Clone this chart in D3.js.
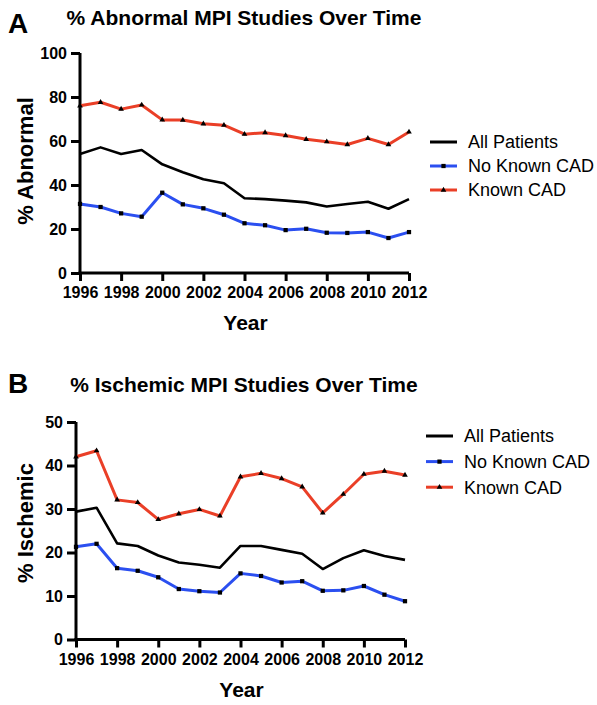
<!DOCTYPE html>
<html>
<head>
<meta charset="utf-8">
<script src="https://cdn.jsdelivr.net/npm/d3@7"></script>
<style>
  body { margin: 0; background: #fff; }
  text { font-family: "Liberation Sans", Arial, Helvetica, sans-serif; }
</style>
</head>
<body>
<script>
var width = 597;
var height = 705;

// data
var years = [1996, 1997, 1998, 1999, 2000, 2001, 2002, 2003, 2004, 2005, 2006, 2007, 2008, 2009, 2010, 2011, 2012];
var yearTicks = [1996, 1998, 2000, 2002, 2004, 2006, 2008, 2010, 2012];
var seriesNames = ["All Patients", "No Known CAD", "Known CAD"];

var abnormalAll = [54.1, 57.1, 54.1, 55.9, 49.4, 45.8, 42.6, 40.8, 34.0, 33.6, 32.9, 32.1, 30.2, 31.4, 32.4, 29.2, 33.6];
var abnormalNoCad = [31.4, 30.0, 27.1, 25.6, 36.5, 31.2, 29.4, 26.5, 22.6, 21.7, 19.5, 20.1, 18.3, 18.2, 18.6, 15.9, 18.6];
var abnormalCad = [76.0, 77.6, 74.5, 76.4, 69.6, 69.5, 67.8, 67.2, 63.1, 63.8, 62.5, 60.8, 59.7, 58.4, 61.2, 58.4, 64.1];
var abnormalTicks = [0, 20, 40, 60, 80, 100];

var ischemicAll = [29.4, 30.3, 22.1, 21.5, 19.3, 17.7, 17.2, 16.5, 21.5, 21.5, 20.6, 19.7, 16.2, 18.7, 20.5, 19.2, 18.3];
var ischemicNoCad = [21.3, 22.0, 16.4, 15.8, 14.3, 11.6, 11.1, 10.8, 15.2, 14.6, 13.1, 13.4, 11.2, 11.3, 12.3, 10.3, 8.8];
var ischemicCad = [42.0, 43.4, 32.1, 31.5, 27.6, 28.9, 29.9, 28.4, 37.4, 38.2, 37.0, 35.1, 29.1, 33.4, 38.0, 38.7, 37.8];
var ischemicTicks = [0, 10, 20, 30, 40, 50];

var colors = ["#000000", "#2b4ff0", "#ea3f27"];
var markers = [null, d3.symbolSquare, d3.symbolTriangle];

var svg = d3.select("body").append("svg")
  .attr("width", width)
  .attr("height", height);

function drawPanel(opt) {
  var g = svg.append("g");

  var x = d3.scaleLinear().domain([1996, 2012]).range([opt.left, opt.right]);
  var y = d3.scaleLinear().domain([0, opt.ymax]).range([opt.bottom, opt.top]);

  // letter + title
  g.append("text")
    .attr("x", 8).attr("y", opt.letterY)
    .style("font-size", "28px").style("font-weight", "bold")
    .text(opt.letter);
  g.append("text")
    .attr("x", 244).attr("y", opt.titleY)
    .attr("text-anchor", "middle")
    .style("font-size", "21px").style("font-weight", "bold")
    .text(opt.title);

  // axes
  var xAxis = g.append("g")
    .attr("transform", "translate(0," + opt.bottom + ")")
    .call(d3.axisBottom(x).tickValues(yearTicks).tickFormat(d3.format("d")).tickSize(8).tickPadding(6).tickSizeOuter(0));
  var yAxis = g.append("g")
    .attr("transform", "translate(" + opt.left + ",0)")
    .call(d3.axisLeft(y).tickValues(opt.ticks).tickSize(9).tickPadding(4).tickSizeOuter(0));

  [xAxis, yAxis].forEach(function (a) {
    a.select(".domain").attr("stroke", "#000").attr("stroke-width", 3);
    a.selectAll(".tick line").attr("stroke", "#000").attr("stroke-width", 3);
    a.selectAll(".tick text")
      .attr("fill", "#000")
      .style("font-size", "16px").style("font-weight", "bold")
      .style("font-family", "'Liberation Sans', Arial, sans-serif");
  });
  // extend axis lines to meet at the corner
  xAxis.select(".domain").attr("d", "M" + (opt.left - 1.5) + ",0H" + opt.right);
  yAxis.select(".domain").attr("d", "M0," + (opt.bottom + 1.5) + "V" + opt.top);

  // axis titles
  g.append("text")
    .attr("x", (opt.left + opt.right) / 2 + 1).attr("y", opt.bottom + 57)
    .attr("text-anchor", "middle")
    .style("font-size", "21px").style("font-weight", "bold")
    .text("Year");
  g.append("text")
    .attr("transform", "translate(33," + opt.ylabelY + ") rotate(-90)")
    .attr("text-anchor", "middle")
    .style("font-size", "22px").style("font-weight", "bold")
    .text(opt.ylabel);

  var line = d3.line()
    .x(function (d, i) { return x(years[i]); })
    .y(function (d) { return y(d); });

  // draw red first? reference draws black on top of nothing overlapping, keep order
  opt.series.forEach(function (vals, s) {
    g.append("path")
      .datum(vals)
      .attr("fill", "none")
      .attr("stroke", colors[s])
      .attr("stroke-width", s === 0 ? 2.6 : 3)
      .attr("stroke-linejoin", "round")
      .attr("d", line);
    if (markers[s]) {
      g.selectAll(".m" + s)
        .data(vals)
        .enter().append("path")
        .attr("transform", function (d, i) { return "translate(" + x(years[i]) + "," + y(d) + ")"; })
        .attr("d", d3.symbol().type(markers[s]).size(s === 1 ? 18 : 14))
        .attr("fill", "#000");
    }
  });

  // legend
  var leg = g.selectAll(".leg")
    .data(seriesNames)
    .enter().append("g")
    .attr("transform", function (d, i) { return "translate(" + opt.legX + "," + (opt.legY + i * opt.legStep) + ")"; });
  leg.append("line")
    .attr("x1", 0).attr("x2", 27)
    .attr("stroke", function (d, i) { return colors[i]; })
    .attr("stroke-width", 3);
  leg.append("path")
    .attr("transform", "translate(13.5,0)")
    .attr("d", function (d, i) { return markers[i] ? d3.symbol().type(markers[i]).size(i === 1 ? 18 : 14)() : null; })
    .attr("fill", "#000");
  leg.append("text")
    .attr("x", 38).attr("dy", "0.35em")
    .style("font-size", "18px")
    .text(function (d) { return d; });
}

drawPanel({
  letter: "A", letterY: 33, title: "% Abnormal MPI Studies Over Time", titleY: 25,
  left: 80, right: 409, top: 53, bottom: 273, ymax: 100, ticks: abnormalTicks,
  ylabel: "% Abnormal", ylabelY: 161,
  series: [abnormalAll, abnormalNoCad, abnormalCad],
  legX: 430, legY: 142, legStep: 24
});

drawPanel({
  letter: "B", letterY: 393, title: "% Ischemic MPI Studies Over Time", titleY: 392,
  left: 76, right: 405, top: 422, bottom: 639.5, ymax: 50, ticks: ischemicTicks,
  ylabel: "% Ischemic", ylabelY: 523,
  series: [ischemicAll, ischemicNoCad, ischemicCad],
  legX: 426, legY: 436, legStep: 25.6
});
</script>
</body>
</html>
